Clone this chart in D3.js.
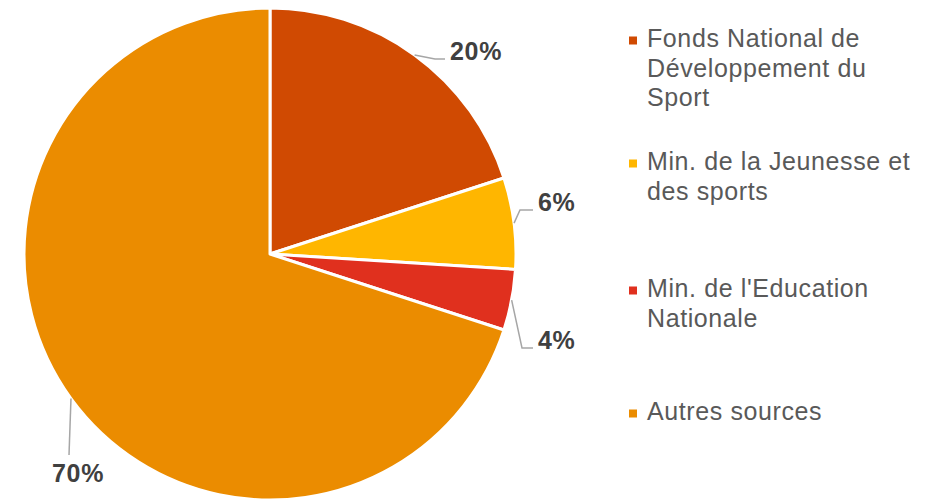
<!DOCTYPE html>
<html>
<head>
<meta charset="utf-8">
<script src="https://cdn.jsdelivr.net/npm/d3@7"></script>
<style>
  body { margin: 0; background: #fff; }
  svg text { font-family: "Liberation Sans", Arial, sans-serif; }
</style>
</head>
<body>
<script>
const width = 941;
const height = 499;

// data
const categories = [
  "Fonds National de Développement du Sport",
  "Min. de la Jeunesse et des sports",
  "Min. de l'Education Nationale",
  "Autres sources",
];
const values = [20, 6, 4, 70];
const colors = ["#D04A02", "#FFB600", "#E0301E", "#EB8C00"];
const legendLines = [
  ["Fonds National de", "Développement du", "Sport"],
  ["Min. de la Jeunesse et", "des sports"],
  ["Min. de l'Education", "Nationale"],
  ["Autres sources"],
];

const cx = 270;
const cy = 254;
const radius = 246;

const svg = d3
  .select("body")
  .append("svg")
  .attr("width", width)
  .attr("height", height);

const pie = d3.pie().sort(null).value((d) => d);
const arcs = pie(values);
const arc = d3.arc().innerRadius(0).outerRadius(radius);

const g = svg.append("g").attr("transform", `translate(${cx},${cy})`);

g.selectAll("path")
  .data(arcs)
  .enter()
  .append("path")
  .attr("d", arc)
  .attr("fill", (d, i) => colors[i])
  .attr("stroke", "#fff")
  .attr("stroke-width", 3)
  .attr("stroke-linejoin", "round");

// leader lines start at the slice's middle on the rim
const leaders = [
  { elbow: [165, -195], endDx: 10 },
  { elbow: [250, -44], endDx: 13 },
  { elbow: [252, 94], endDx: 11 },
  { elbow: [-201, 201], endDx: 0 },
];

arcs.forEach((d, i) => {
  const L = leaders[i];
  const a = (d.startAngle + d.endAngle) / 2;
  const p0 = [Math.sin(a) * radius, -Math.cos(a) * radius];
  const lineData = [p0, L.elbow, [L.elbow[0] + L.endDx, L.elbow[1]]];
  g.append("path")
    .attr("d", d3.line()(lineData))
    .attr("fill", "none")
    .attr("stroke", "#A6A6A6")
    .attr("stroke-width", 1.5);
  const txt = g
    .append("text")
    .attr("font-size", 25)
    .attr("letter-spacing", 0.7)
    .attr("font-weight", "bold")
    .attr("fill", "#404040")
    .text(d3.format(".0%")(d.value / 100));
  if (L.endDx === 0) {
    txt.attr("text-anchor", "middle").attr("x", L.elbow[0] + 9).attr("y", L.elbow[1] + 27);
  } else {
    txt.attr("x", L.elbow[0] + L.endDx + 5).attr("y", L.elbow[1] + 1);
  }
});

// legend
const legendY = [47, 170, 297, 420];
const lineH = 29.7;
const legend = svg
  .append("g")
  .selectAll("g")
  .data(categories)
  .enter()
  .append("g")
  .attr("transform", (d, i) => `translate(629,${legendY[i]})`);

legend
  .append("rect")
  .attr("x", 0)
  .attr("y", -10.5)
  .attr("width", 8)
  .attr("height", 8)
  .attr("fill", (d, i) => colors[i]);

legend
  .append("text")
  .attr("font-size", 25)
  .attr("letter-spacing", 0.6)
  .attr("fill", "#595959")
  .selectAll("tspan")
  .data((d, i) => legendLines[i])
  .enter()
  .append("tspan")
  .attr("x", 18)
  .attr("y", (d, j) => j * lineH)
  .text((d) => d);
</script>
</body>
</html>
